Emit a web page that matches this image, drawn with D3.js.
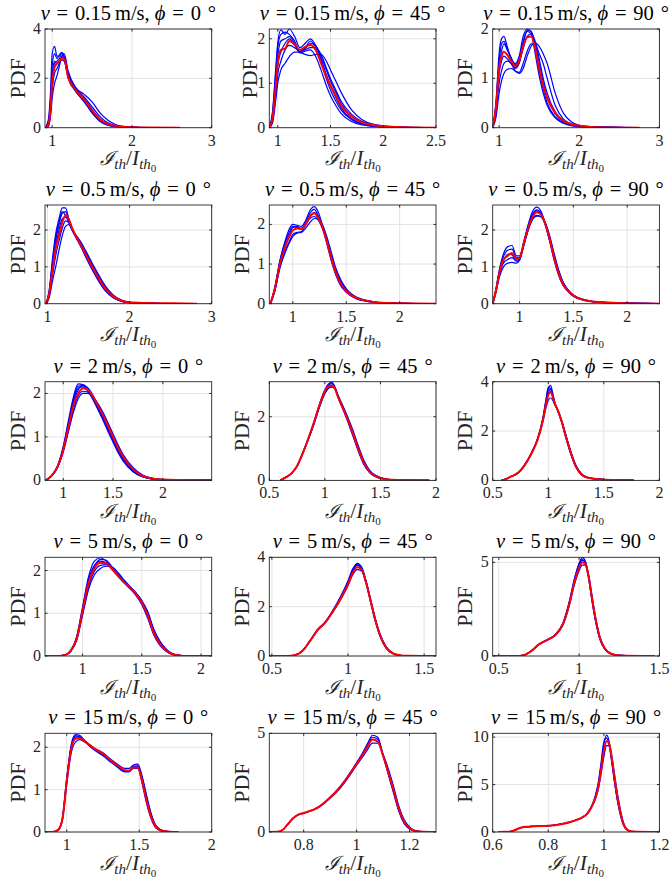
<!DOCTYPE html>
<html><head><meta charset="utf-8">
<script src="https://cdn.jsdelivr.net/npm/d3@7"></script>
<style>body{margin:0;background:#fff}svg{display:block}</style>
</head><body>
<svg id="c" width="672" height="884"></svg>
<script>
// ---------- DATA ----------
const speeds = ["0.15","0.15","0.15","0.5","0.5","0.5","2","2","2","5","5","5","15","15","15"];
const angles = ["0","45","90","0","45","90","0","45","90","0","45","90","0","45","90"];
const xDomains = [[0.91,3],[0.92,2.5],[0.92,3],[0.97,3],[0.78,2.34],[0.75,2.30],[0.817,2.49],[0.5,2],[0.5,2],[0.683,2.09],[0.483,1.578],[0.462,1.5],[0.85,2],[0.67,1.3],[0.6,1.2]];
const yDomains = [[0,4],[0,2.22],[0,2],[0,2.68],[0,2.49],[0,2.68],[0,2.27],[0,3.1],[0,4],[0,2.31],[0,4],[0,5.27],[0,2.33],[0,5],[0,10.4]];
const xTickVals = [[1,2,3],[1,1.5,2,2.5],[1,2,3],[1,2,3],[1,1.5,2],[1,1.5,2],[1,1.5,2],[0.5,1,1.5,2],[0.5,1,1.5,2],[1,1.5,2],[0.5,1,1.5],[0.5,1,1.5],[1,1.5,2],[0.8,1,1.2],[0.6,0.8,1,1.2]];
const yTickVals = [[0,2,4],[0,1,2],[0,1,2],[0,1,2],[0,1,2],[0,1,2],[0,1,2],[0,2],[0,2,4],[0,1,2],[0,2,4],[0,5],[0,1,2],[0,5],[0,5,10]];

// v=0.15, phi=0
const x_p1 = [0.91,0.95,0.98,1.0,1.03,1.06,1.09,1.12,1.15,1.2,1.3,1.4,1.5,1.6,1.7,1.8,1.9,2.0,2.2,2.6];
const red_p1 = [0,0.1,0.8,1.8,2.45,2.6,2.7,2.8,2.8,2.05,1.5,1.15,0.7,0.33,0.15,0.07,0.03,0.02,0.01,0];
const blue_p1 = [
 [0,0.3,1.5,3.0,3.3,2.9,2.9,3.0,2.8,2.0,1.45,1.05,0.6,0.25,0.1,0.04,0.02,0.01,0,0],
 [0,0.2,1.2,2.5,3.0,2.8,2.95,3.05,2.9,2.1,1.5,1.1,0.65,0.3,0.12,0.05,0.02,0.01,0,0],
 [0,0.05,0.5,1.2,1.8,2.1,2.5,2.9,3.0,2.3,1.6,1.25,0.85,0.45,0.2,0.08,0.03,0.01,0,0],
 [0,0.1,0.8,1.8,2.6,2.7,2.8,2.9,2.9,2.2,1.55,1.2,0.75,0.35,0.15,0.06,0.03,0.01,0,0],
 [0,0.05,0.6,1.5,2.2,2.4,2.6,2.8,2.85,2.2,1.6,1.35,1.05,0.6,0.3,0.12,0.05,0.02,0,0],
 [0,0.15,1.0,2.1,2.7,2.6,2.65,2.75,2.7,2.1,1.45,1.1,0.6,0.28,0.1,0.04,0.02,0.01,0,0]];
// v=0.15, phi=45
const x_p2 = [0.92,0.95,0.98,1.0,1.03,1.07,1.11,1.16,1.21,1.26,1.31,1.36,1.41,1.46,1.5,1.55,1.6,1.7,1.8,1.9,2.0,2.2,2.5];
const red_p2 = [0,0.2,0.9,1.45,1.75,1.78,1.95,1.88,1.75,1.82,1.86,1.75,1.45,1.15,0.95,0.72,0.5,0.25,0.12,0.06,0.03,0.01,0];
const blue_p2 = [
 [0,0.35,1.3,1.9,2.2,2.1,2.22,2.05,1.8,1.9,2.0,1.85,1.55,1.2,0.95,0.68,0.45,0.2,0.09,0.04,0.02,0.01,0],
 [0,0.3,1.2,1.8,2.1,2.15,2.1,1.95,1.7,1.8,1.95,1.8,1.5,1.1,0.85,0.6,0.4,0.18,0.08,0.04,0.02,0.01,0],
 [0,0.1,0.6,1.0,1.3,1.45,1.6,1.7,1.7,1.75,1.8,1.8,1.65,1.35,1.1,0.85,0.6,0.3,0.14,0.07,0.03,0.01,0],
 [0,0.15,0.7,1.2,1.5,1.75,1.85,1.8,1.7,1.65,1.62,1.65,1.65,1.5,1.3,1.05,0.8,0.4,0.18,0.08,0.04,0.01,0],
 [0,0.25,1.0,1.6,1.95,2.0,2.05,1.9,1.68,1.72,1.75,1.6,1.3,0.95,0.72,0.5,0.32,0.14,0.06,0.03,0.01,0,0],
 [0,0.2,0.85,1.4,1.7,1.9,2.0,1.85,1.72,1.78,1.9,1.85,1.6,1.3,1.05,0.8,0.55,0.25,0.11,0.05,0.02,0.01,0]];
// v=0.15, phi=90
const x_p3 = [0.92,0.96,1.0,1.03,1.06,1.1,1.15,1.2,1.25,1.3,1.35,1.4,1.45,1.5,1.55,1.6,1.7,1.8,1.9,2.0,2.2,2.75];
const red_p3 = [0,0.4,1.2,1.45,1.54,1.48,1.35,1.25,1.35,1.65,1.83,1.85,1.6,1.2,0.85,0.6,0.3,0.14,0.07,0.04,0.01,0];
const blue_p3 = [
 [0,0.5,1.5,1.8,1.85,1.65,1.4,1.3,1.45,1.85,2.0,1.95,1.6,1.15,0.78,0.5,0.22,0.1,0.05,0.02,0.01,0],
 [0,0.45,1.35,1.7,1.75,1.6,1.42,1.28,1.4,1.75,1.97,1.95,1.7,1.3,0.92,0.62,0.28,0.12,0.06,0.03,0.01,0],
 [0,0.2,0.7,0.95,1.1,1.18,1.2,1.15,1.12,1.3,1.55,1.7,1.7,1.5,1.3,1.0,0.45,0.18,0.08,0.04,0.01,0],
 [0,0.3,0.9,1.15,1.3,1.35,1.3,1.15,1.1,1.2,1.45,1.65,1.72,1.65,1.5,1.3,0.7,0.3,0.12,0.05,0.02,0],
 [0,0.4,1.25,1.55,1.7,1.58,1.4,1.2,1.3,1.7,1.95,1.9,1.5,1.05,0.7,0.45,0.2,0.09,0.04,0.02,0,0],
 [0,0.35,1.1,1.35,1.45,1.4,1.3,1.22,1.32,1.6,1.85,1.9,1.75,1.4,1.0,0.7,0.32,0.14,0.06,0.03,0.01,0]];
// v=0.5, phi=0
const x_p4 = [0.98,1.02,1.06,1.1,1.14,1.18,1.22,1.26,1.3,1.35,1.4,1.47,1.55,1.6,1.7,1.8,1.9,2.0,2.2,2.5,2.82];
const red_p4 = [0,0.25,0.9,1.5,1.85,2.2,2.4,2.3,2.05,1.82,1.62,1.32,0.98,0.78,0.42,0.2,0.08,0.04,0.02,0.01,0];
const blue_p4 = [
 [0,0.35,1.2,1.9,2.3,2.6,2.6,2.3,2.0,1.78,1.58,1.25,0.9,0.7,0.36,0.16,0.06,0.03,0.01,0,0],
 [0,0.3,1.05,1.7,2.15,2.45,2.5,2.28,2.05,1.82,1.6,1.3,0.95,0.75,0.4,0.18,0.07,0.03,0.01,0,0],
 [0,0.15,0.6,1.0,1.45,1.85,2.1,2.15,2.0,1.85,1.7,1.42,1.08,0.88,0.5,0.24,0.1,0.04,0.02,0,0],
 [0,0.2,0.75,1.3,1.7,2.05,2.25,2.2,2.0,1.85,1.66,1.38,1.04,0.84,0.46,0.22,0.09,0.04,0.02,0,0],
 [0,0.3,1.1,1.8,2.2,2.5,2.4,2.2,2.02,1.8,1.58,1.27,0.92,0.72,0.38,0.17,0.07,0.03,0.01,0,0],
 [0,0.25,0.95,1.55,2.0,2.3,2.35,2.25,2.05,1.84,1.64,1.35,1.0,0.8,0.44,0.2,0.08,0.04,0.02,0,0]];
// v=0.5, phi=45
const x_p5 = [0.79,0.83,0.88,0.93,0.97,1.0,1.04,1.08,1.12,1.16,1.2,1.24,1.28,1.32,1.36,1.4,1.45,1.5,1.6,1.7,1.8,2.0,2.34];
const red_p5 = [0,0.35,1.0,1.45,1.7,1.85,1.9,1.88,2.0,2.2,2.28,2.15,1.9,1.55,1.15,0.8,0.5,0.32,0.14,0.07,0.03,0.01,0];
const blue_p5 = [
 [0,0.4,1.1,1.6,1.9,2.0,1.98,1.95,2.1,2.35,2.45,2.3,1.95,1.55,1.12,0.76,0.46,0.3,0.12,0.06,0.03,0.01,0],
 [0,0.3,0.95,1.35,1.58,1.75,1.8,1.82,1.98,2.2,2.3,2.2,1.95,1.6,1.2,0.85,0.55,0.35,0.15,0.07,0.03,0.01,0],
 [0,0.35,1.05,1.5,1.75,1.92,1.95,1.9,2.0,2.15,2.2,2.1,1.88,1.55,1.18,0.82,0.52,0.33,0.14,0.07,0.03,0.01,0],
 [0,0.3,0.9,1.3,1.55,1.7,1.78,1.8,1.9,2.05,2.15,2.12,1.98,1.68,1.3,0.92,0.6,0.38,0.16,0.08,0.03,0.01,0],
 [0,0.38,1.08,1.55,1.82,1.95,1.92,1.9,2.05,2.28,2.38,2.2,1.9,1.5,1.08,0.74,0.45,0.29,0.12,0.06,0.02,0.01,0]];
// v=0.5, phi=90
const x_p6 = [0.75,0.78,0.81,0.85,0.89,0.93,0.97,1.0,1.04,1.08,1.12,1.16,1.2,1.24,1.28,1.32,1.36,1.4,1.45,1.5,1.6,1.7,1.9,2.3];
const red_p6 = [0,0.35,0.8,1.2,1.3,1.38,1.22,1.25,1.65,2.05,2.35,2.48,2.42,2.15,1.75,1.25,0.85,0.55,0.35,0.22,0.1,0.05,0.02,0];
const blue_p6 = [
 [0,0.4,0.9,1.35,1.55,1.58,1.3,1.3,1.7,2.15,2.5,2.62,2.5,2.15,1.7,1.2,0.8,0.52,0.33,0.2,0.09,0.05,0.02,0],
 [0,0.3,0.7,1.0,1.1,1.12,1.1,1.18,1.58,2.0,2.3,2.4,2.35,2.15,1.8,1.32,0.9,0.6,0.37,0.23,0.1,0.05,0.02,0],
 [0,0.38,0.85,1.28,1.45,1.48,1.25,1.25,1.68,2.1,2.42,2.55,2.45,2.12,1.7,1.22,0.82,0.53,0.34,0.21,0.1,0.05,0.02,0],
 [0,0.32,0.75,1.1,1.2,1.25,1.15,1.2,1.6,2.0,2.28,2.38,2.38,2.2,1.85,1.38,0.95,0.62,0.38,0.24,0.11,0.05,0.02,0],
 [0,0.36,0.82,1.15,1.35,1.32,1.18,1.22,1.62,2.08,2.4,2.52,2.46,2.18,1.76,1.26,0.85,0.55,0.35,0.22,0.1,0.05,0.02,0]];
// v=2, phi=0
const x_p7 = [0.82,0.88,0.94,1.0,1.05,1.1,1.15,1.2,1.25,1.3,1.35,1.4,1.45,1.5,1.55,1.6,1.7,1.8,1.9,2.0,2.2,2.49];
const red_p7 = [0,0.1,0.3,0.7,1.2,1.7,2.0,2.12,2.08,1.92,1.72,1.5,1.25,1.0,0.75,0.55,0.26,0.1,0.04,0.02,0.01,0];
const blue_p7 = [
 [0,0.1,0.32,0.78,1.35,1.9,2.22,2.2,2.05,1.85,1.62,1.38,1.12,0.88,0.64,0.45,0.2,0.08,0.03,0.01,0,0],
 [0,0.1,0.3,0.72,1.25,1.8,2.12,2.15,2.05,1.88,1.68,1.45,1.2,0.95,0.7,0.5,0.23,0.09,0.03,0.01,0,0],
 [0,0.09,0.28,0.65,1.1,1.55,1.88,2.0,2.0,1.9,1.76,1.56,1.32,1.07,0.82,0.6,0.3,0.12,0.05,0.02,0.01,0],
 [0,0.1,0.29,0.68,1.15,1.62,1.95,2.05,2.03,1.92,1.74,1.53,1.28,1.03,0.78,0.57,0.27,0.11,0.04,0.02,0.01,0],
 [0,0.1,0.31,0.75,1.3,1.85,2.17,2.18,2.07,1.87,1.65,1.42,1.16,0.92,0.67,0.48,0.21,0.08,0.03,0.01,0,0],
 [0,0.1,0.3,0.7,1.22,1.75,2.08,2.2,2.12,1.95,1.73,1.5,1.24,0.98,0.72,0.52,0.24,0.09,0.03,0.01,0,0]];
// v=2, phi=45
const x_p8 = [0.6,0.65,0.7,0.75,0.8,0.85,0.9,0.95,1.0,1.03,1.06,1.09,1.12,1.16,1.2,1.25,1.3,1.35,1.4,1.5,1.6,1.94];
const red_p8 = [0,0.1,0.22,0.45,0.85,1.3,1.8,2.35,2.8,2.95,2.98,2.88,2.6,2.28,1.95,1.5,1.0,0.55,0.28,0.07,0.02,0];
const blue_p8 = [
 [0,0.1,0.22,0.45,0.86,1.32,1.82,2.38,2.85,3.02,3.08,2.95,2.65,2.28,1.9,1.42,0.92,0.5,0.25,0.06,0.02,0],
 [0,0.1,0.23,0.46,0.84,1.28,1.76,2.3,2.75,2.9,2.95,2.88,2.62,2.32,2.0,1.55,1.05,0.6,0.31,0.08,0.02,0],
 [0,0.1,0.22,0.44,0.85,1.3,1.8,2.33,2.8,2.98,3.04,2.92,2.6,2.26,1.93,1.47,0.97,0.53,0.27,0.07,0.02,0],
 [0,0.1,0.22,0.45,0.83,1.27,1.75,2.28,2.72,2.88,2.93,2.9,2.66,2.36,2.04,1.6,1.1,0.64,0.33,0.09,0.02,0]];
// v=2, phi=90
const x_p9 = [0.58,0.62,0.66,0.7,0.75,0.8,0.85,0.9,0.95,0.98,1.0,1.02,1.04,1.06,1.08,1.12,1.16,1.2,1.25,1.3,1.35,1.45,1.77];
const red_p9 = [0,0.05,0.15,0.22,0.4,0.7,1.1,1.6,2.4,3.1,3.45,3.58,3.4,3.1,2.9,2.4,1.75,1.15,0.55,0.23,0.12,0.05,0];
const blue_p9 = [
 [0,0.05,0.15,0.22,0.4,0.7,1.1,1.62,2.45,3.25,3.7,3.85,3.55,3.15,2.9,2.35,1.7,1.1,0.52,0.22,0.11,0.05,0],
 [0,0.05,0.15,0.22,0.4,0.7,1.1,1.6,2.35,2.95,3.25,3.35,3.25,3.05,2.88,2.42,1.8,1.2,0.58,0.25,0.12,0.05,0],
 [0,0.05,0.15,0.22,0.41,0.71,1.12,1.63,2.42,3.15,3.55,3.7,3.45,3.12,2.9,2.38,1.73,1.13,0.54,0.23,0.12,0.05,0],
 [0,0.05,0.15,0.23,0.42,0.72,1.13,1.65,2.5,3.3,3.78,3.72,3.35,3.08,2.92,2.45,1.82,1.22,0.6,0.27,0.13,0.05,0]];
// v=5, phi=0
const x_p10 = [0.683,0.8,0.85,0.9,0.95,1.0,1.05,1.1,1.15,1.2,1.25,1.3,1.35,1.4,1.45,1.5,1.55,1.6,1.65,1.7,1.75,1.8,1.9,2.09];
const red_p10 = [0,0,0.02,0.12,0.4,1.05,1.7,2.05,2.18,2.17,2.03,1.88,1.73,1.6,1.45,1.25,0.95,0.55,0.3,0.14,0.05,0.02,0,0];
const blue_p10 = [
 [0,0,0.02,0.13,0.45,1.15,1.85,2.22,2.3,2.22,2.05,1.88,1.72,1.58,1.42,1.2,0.88,0.5,0.26,0.12,0.04,0.01,0,0],
 [0,0,0.02,0.11,0.36,0.95,1.55,1.9,2.05,2.1,2.08,1.95,1.78,1.63,1.48,1.3,1.02,0.62,0.35,0.17,0.06,0.02,0,0],
 [0,0,0.02,0.12,0.42,1.1,1.78,2.12,2.22,2.18,2.02,1.86,1.71,1.58,1.44,1.24,0.93,0.53,0.28,0.13,0.05,0.02,0,0],
 [0,0,0.02,0.11,0.38,1.0,1.62,1.98,2.12,2.14,2.05,1.92,1.76,1.62,1.48,1.28,1.0,0.6,0.33,0.16,0.06,0.02,0,0],
 [0,0,0.02,0.12,0.41,1.08,1.74,2.1,2.26,2.24,2.08,1.9,1.74,1.6,1.47,1.29,1.04,0.64,0.36,0.18,0.07,0.02,0,0]];
// v=5, phi=45
const x_p11 = [0.483,0.6,0.65,0.7,0.75,0.8,0.85,0.9,0.95,1.0,1.03,1.06,1.09,1.12,1.15,1.18,1.21,1.25,1.3,1.35,1.4,1.578];
const red_p11 = [0,0,0.03,0.2,0.6,1.05,1.35,1.8,2.3,2.9,3.35,3.6,3.5,2.95,2.2,1.45,0.85,0.35,0.09,0.02,0.01,0];
const blue_p11 = [
 [0,0,0.03,0.2,0.6,1.05,1.36,1.82,2.35,2.98,3.45,3.75,3.6,3.0,2.2,1.42,0.82,0.33,0.08,0.02,0,0],
 [0,0,0.03,0.2,0.6,1.04,1.34,1.78,2.27,2.85,3.28,3.5,3.45,2.98,2.26,1.5,0.9,0.38,0.1,0.02,0.01,0],
 [0,0,0.03,0.21,0.61,1.06,1.36,1.8,2.3,2.92,3.4,3.67,3.55,3.0,2.23,1.47,0.87,0.36,0.09,0.02,0.01,0],
 [0,0,0.03,0.2,0.62,1.08,1.38,1.85,2.4,3.05,3.52,3.72,3.5,2.9,2.12,1.38,0.8,0.32,0.08,0.02,0,0]];
// v=5, phi=90
const x_p12 = [0.462,0.6,0.65,0.7,0.75,0.8,0.85,0.9,0.94,0.97,1.0,1.02,1.04,1.06,1.08,1.1,1.13,1.16,1.2,1.25,1.47];
const red_p12 = [0,0,0.03,0.25,0.62,0.85,1.1,1.7,2.8,3.9,4.7,5.0,4.9,4.2,3.1,2.1,0.95,0.4,0.12,0.03,0];
const blue_p12 = [
 [0,0,0.03,0.25,0.62,0.86,1.12,1.74,2.9,4.05,4.95,5.25,5.05,4.2,3.0,2.0,0.9,0.37,0.11,0.03,0],
 [0,0,0.03,0.24,0.61,0.84,1.09,1.67,2.72,3.78,4.55,4.85,4.85,4.3,3.25,2.2,1.02,0.43,0.13,0.03,0],
 [0,0,0.03,0.25,0.62,0.85,1.1,1.72,2.85,3.95,4.82,5.12,4.98,4.25,3.1,2.08,0.96,0.4,0.12,0.03,0],
 [0,0,0.03,0.26,0.63,0.87,1.13,1.78,2.95,4.1,4.9,5.15,4.9,4.1,2.95,1.95,0.88,0.36,0.1,0.03,0]];
// v=15, phi=0
const x_p13 = [0.85,0.9,0.94,0.97,1.0,1.03,1.06,1.09,1.12,1.16,1.2,1.25,1.3,1.35,1.4,1.43,1.46,1.49,1.52,1.55,1.58,1.62,1.67,1.77];
const red_p13 = [0,0,0.05,0.3,1.2,1.95,2.2,2.22,2.15,2.05,1.95,1.85,1.7,1.57,1.46,1.45,1.52,1.52,1.2,0.75,0.38,0.1,0.02,0];
const blue_p13 = [
 [0,0,0.05,0.32,1.28,2.05,2.3,2.28,2.18,2.05,1.93,1.82,1.68,1.54,1.42,1.42,1.5,1.5,1.15,0.68,0.33,0.08,0.01,0],
 [0,0,0.04,0.28,1.12,1.85,2.12,2.18,2.13,2.05,1.96,1.87,1.73,1.6,1.5,1.5,1.58,1.6,1.32,0.88,0.46,0.13,0.03,0],
 [0,0,0.05,0.3,1.22,1.98,2.24,2.24,2.16,2.04,1.94,1.84,1.69,1.56,1.44,1.44,1.55,1.56,1.26,0.8,0.42,0.11,0.02,0],
 [0,0,0.05,0.31,1.25,2.0,2.27,2.25,2.15,2.02,1.91,1.8,1.66,1.53,1.43,1.43,1.53,1.55,1.28,0.84,0.44,0.12,0.02,0]];
// v=15, phi=45
const x_p14 = [0.67,0.7,0.72,0.74,0.76,0.78,0.8,0.82,0.84,0.86,0.88,0.9,0.92,0.94,0.96,0.98,1.0,1.02,1.04,1.06,1.08,1.1,1.12,1.14,1.16,1.18,1.2,1.22,1.25,1.3];
const red_p14 = [0,0.01,0.1,0.4,0.7,0.88,0.96,1.05,1.15,1.3,1.5,1.75,2.0,2.3,2.65,3.05,3.45,3.85,4.3,4.68,4.58,3.85,3.0,2.1,1.15,0.5,0.2,0.05,0.01,0];
const blue_p14 = [
 [0,0.01,0.1,0.4,0.7,0.88,0.96,1.05,1.15,1.3,1.52,1.78,2.04,2.35,2.7,3.1,3.52,3.95,4.45,4.9,4.8,3.9,2.9,1.95,1.02,0.42,0.15,0.04,0.01,0],
 [0,0.01,0.1,0.39,0.69,0.87,0.95,1.04,1.14,1.28,1.48,1.72,1.96,2.25,2.6,2.98,3.38,3.75,4.15,4.5,4.5,3.95,3.2,2.3,1.3,0.62,0.26,0.08,0.02,0],
 [0,0.01,0.1,0.4,0.7,0.88,0.96,1.05,1.15,1.29,1.5,1.76,2.02,2.32,2.67,3.07,3.48,3.9,4.38,4.8,4.7,3.88,2.95,2.02,1.08,0.46,0.17,0.05,0.01,0]];
// v=15, phi=90
const x_p15 = [0.62,0.66,0.68,0.7,0.72,0.75,0.8,0.85,0.88,0.9,0.92,0.94,0.96,0.97,0.98,0.99,1.0,1.01,1.02,1.03,1.04,1.05,1.06,1.07,1.08,1.1,1.2];
const red_p15 = [0,0.02,0.2,0.45,0.55,0.6,0.65,0.85,1.05,1.25,1.5,1.9,2.9,3.6,4.7,6.5,8.5,9.6,9.2,7.5,5.4,3.5,2.0,0.9,0.35,0.05,0];
const blue_p15 = [
 [0,0.02,0.2,0.45,0.55,0.6,0.65,0.85,1.05,1.25,1.5,1.9,2.95,3.8,5.0,7.0,9.2,10.2,9.4,7.2,5.0,3.1,1.7,0.75,0.28,0.04,0],
 [0,0.02,0.2,0.45,0.55,0.6,0.65,0.85,1.05,1.25,1.5,1.9,2.85,3.5,4.5,6.1,7.9,9.1,9.1,7.8,5.8,3.9,2.3,1.05,0.42,0.06,0],
 [0,0.02,0.2,0.45,0.55,0.6,0.66,0.86,1.06,1.27,1.53,1.95,3.0,3.9,5.2,7.3,9.5,9.9,9.0,7.0,4.9,3.2,1.9,0.9,0.36,0.05,0]];

const xGrids = [x_p1,x_p2,x_p3,x_p4,x_p5,x_p6,x_p7,x_p8,x_p9,x_p10,x_p11,x_p12,x_p13,x_p14,x_p15];
const reds = [red_p1,red_p2,red_p3,red_p4,red_p5,red_p6,red_p7,red_p8,red_p9,red_p10,red_p11,red_p12,red_p13,red_p14,red_p15];
const blues = [blue_p1,blue_p2,blue_p3,blue_p4,blue_p5,blue_p6,blue_p7,blue_p8,blue_p9,blue_p10,blue_p11,blue_p12,blue_p13,blue_p14,blue_p15];

// ---------- LAYOUT ----------
const colLeft = [45, 269.3, 492.7];
const rowTop = [29, 205, 381.7, 557.3, 733.3];
const W = 166.7, H = 98.7;
const FONT = "'Liberation Serif','DejaVu Serif',serif";
const svg = d3.select("#c");

xGrids.forEach((xs, i) => {
  const r = Math.floor(i/3), c = i%3;
  const L = colLeft[c], T = rowTop[r];
  const x = d3.scaleLinear().domain(xDomains[i]).range([L, L+W]);
  const y = d3.scaleLinear().domain(yDomains[i]).range([T+H, T]);
  const g = svg.append("g");
  const cid = "clip"+i;
  g.append("clipPath").attr("id", cid).append("rect").attr("x",L).attr("y",T-1).attr("width",W).attr("height",H+1);

  // grid
  g.selectAll(".gx").data(xTickVals[i]).join("line")
    .attr("x1", d=>x(d)).attr("x2", d=>x(d)).attr("y1",T).attr("y2",T+H)
    .attr("stroke","#e3e3e3").attr("stroke-width",1);
  g.selectAll(".gy").data(yTickVals[i]).join("line")
    .attr("y1", d=>y(d)).attr("y2", d=>y(d)).attr("x1",L).attr("x2",L+W)
    .attr("stroke","#e3e3e3").attr("stroke-width",1);

  const line = d3.line().x((d,k)=>x(xs[k])).y(d=>y(d)).curve(d3.curveMonotoneX);
  const pg = g.append("g").attr("clip-path", `url(#${cid})`);
  blues[i].forEach(b => pg.append("path").attr("d", line(b)).attr("fill","none").attr("stroke","#0000ff").attr("stroke-width",1.2));
  pg.append("path").attr("d", line(reds[i])).attr("fill","none").attr("stroke","#ff0000").attr("stroke-width",2);

  // box
  g.append("rect").attr("x",L).attr("y",T).attr("width",W).attr("height",H)
    .attr("fill","none").attr("stroke","#262626").attr("stroke-width",0.9);
  // ticks (inward, all sides)
  const tl = 2.5;
  xTickVals[i].forEach(v => {
    g.append("line").attr("x1",x(v)).attr("x2",x(v)).attr("y1",T+H).attr("y2",T+H-tl).attr("stroke","#262626");
    g.append("line").attr("x1",x(v)).attr("x2",x(v)).attr("y1",T).attr("y2",T+tl).attr("stroke","#262626");
    g.append("text").attr("x",x(v)).attr("y",T+H+18).attr("text-anchor","middle")
      .attr("font-family",FONT).attr("font-size",16).attr("fill","#262626").text(String(v));
  });
  yTickVals[i].forEach(v => {
    g.append("line").attr("y1",y(v)).attr("y2",y(v)).attr("x1",L).attr("x2",L+tl).attr("stroke","#262626");
    g.append("line").attr("y1",y(v)).attr("y2",y(v)).attr("x1",L+W).attr("x2",L+W-tl).attr("stroke","#262626");
    g.append("text").attr("x",L-4).attr("y",y(v)+5).attr("text-anchor","end")
      .attr("font-family",FONT).attr("font-size",16).attr("fill","#262626").text(String(v));
  });

  // title
  const t = g.append("text").attr("x",L+W/2).attr("y",T-9).attr("text-anchor","middle")
    .attr("font-family",FONT).attr("font-size",20.5).attr("fill","#000").attr("xml:space","preserve");
  t.append("tspan").attr("font-style","italic").text("v");
  t.append("tspan").text("\u2004=\u2004" + speeds[i] + "\u2009m/s, ");
  t.append("tspan").attr("font-style","italic").text("\u03d5");
  t.append("tspan").text("\u2004=\u2004" + angles[i] + "\u2004\u00b0");

  // y label
  const ly = T + H/2, lx = (i===1) ? L-20 : L-28;
  g.append("text").attr("transform",`translate(${lx},${ly}) rotate(-90)`).attr("text-anchor","middle")
    .attr("dy","0.35em").attr("font-family",FONT).attr("font-size",22).attr("fill","#262626").text("PDF");

  // x label
  const xl = g.append("text").attr("x",L+W/2).attr("y",T+H+37.5).attr("text-anchor","middle")
    .attr("font-family",FONT).attr("font-size",21.5).attr("fill","#262626");
  xl.append("tspan").attr("font-family","'DejaVu Serif',serif").attr("font-style","italic").attr("font-size",19.5).text("\u2110");
  xl.append("tspan").attr("font-style","italic").attr("font-size",15).attr("dy",4).text("th");
  xl.append("tspan").attr("dy",-4).text("/");
  xl.append("tspan").attr("font-style","italic").text("I");
  xl.append("tspan").attr("font-style","italic").attr("font-size",15).attr("dy",4).text("th");
  xl.append("tspan").attr("font-size",11).attr("dy",3).text("0");
});
</script>
</body></html>
